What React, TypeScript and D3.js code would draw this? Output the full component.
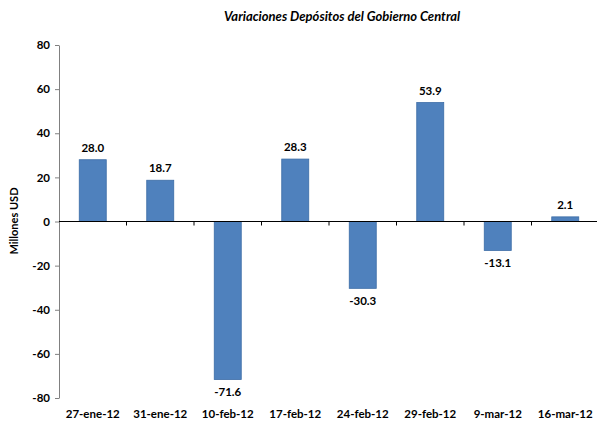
import React, { useEffect, useRef } from "react";
import * as d3 from "d3";

const categories = ["27-ene-12", "31-ene-12", "10-feb-12", "17-feb-12", "24-feb-12", "29-feb-12", "9-mar-12", "16-mar-12"];
const values = [28.0, 18.7, -71.6, 28.3, -30.3, 53.9, -13.1, 2.1];
const yTicks = [-80, -60, -40, -20, 0, 20, 40, 60, 80];

const width = 597;
const height = 428;
const font = "Lato, 'Open Sans', sans-serif";

export default function App() {
  const ref = useRef<SVGSVGElement>(null);

  useEffect(() => {
    const svg = d3.select(ref.current);
    svg.selectAll("*").remove();

    const x = d3.scaleBand().domain(categories).range([59, 599]).paddingInner(0.6).paddingOuter(0.3);
    const band = d3.scaleBand().domain(categories).range([59, 599]);
    const y = d3.scaleLinear().domain([-80, 80]).range([398, 45]);

    // title
    svg.append("text")
      .attr("x", 342).attr("y", 21)
      .attr("text-anchor", "middle")
      .style("font-family", font).style("font-size", "13px")
      .style("font-weight", "bold").style("font-style", "italic")
      .text("Variaciones Depósitos del Gobierno Central");

    // y label
    svg.append("text")
      .attr("transform", "translate(18, 221) rotate(-90)")
      .attr("text-anchor", "middle")
      .style("font-family", font).style("font-size", "11px").style("font-weight", "bold")
      .text("Millones USD");

    // bars
    svg.append("g").selectAll("rect").data(values).join("rect")
      .attr("x", (d, i) => x(categories[i])!)
      .attr("width", x.bandwidth())
      .attr("y", d => y(Math.max(0, d)))
      .attr("height", d => Math.abs(y(d) - y(0)))
      .attr("fill", "#4f81bd")
      .attr("stroke", "#3b6ca6")
      .attr("stroke-width", 0.8);

    // value labels
    svg.append("g").selectAll("text").data(values).join("text")
      .attr("x", (d, i) => x(categories[i])! + x.bandwidth() / 2)
      .attr("y", d => d >= 0 ? y(d) - 8 : y(d) + 17)
      .attr("text-anchor", "middle")
      .style("font-family", font).style("font-size", "11.5px").style("font-weight", "bold")
      .text(d => d.toFixed(1));

    // y axis
    const yAxis = svg.append("g").attr("transform", "translate(59,0)")
      .call(d3.axisLeft(y).tickValues(yTicks).tickSize(4).tickSizeOuter(0).tickFormat(d => String(d)));
    yAxis.select(".domain").attr("stroke", "#808080");
    yAxis.selectAll(".tick line").attr("stroke", "#808080");
    yAxis.selectAll(".tick text")
      .attr("x", -9)
      .style("font-family", font).style("font-size", "11.5px").style("font-weight", "bold").attr("fill", "#000");

    // zero line with ticks between bands
    const zero = svg.append("g").attr("transform", `translate(0,${y(0)})`);
    zero.append("line").attr("x1", 59).attr("x2", 597).attr("stroke", "#000").attr("stroke-width", 1);
    zero.selectAll("line.t").data(categories.slice(1)).join("line")
      .attr("class", "t")
      .attr("x1", d => band(d)!).attr("x2", d => band(d)!)
      .attr("y1", 0).attr("y2", 4)
      .attr("stroke", "#000");

    // category labels
    svg.append("g").selectAll("text").data(categories).join("text")
      .attr("x", d => band(d)! + band.bandwidth() / 2)
      .attr("y", 418)
      .attr("text-anchor", "middle")
      .style("font-family", font).style("font-size", "11.5px").style("font-weight", "bold")
      .text(d => d);
  }, []);

  return (
    <svg ref={ref} width={width} height={height}
      style={{ position: "absolute", left: 0, top: 0, background: "#fff" }} />
  );
}
